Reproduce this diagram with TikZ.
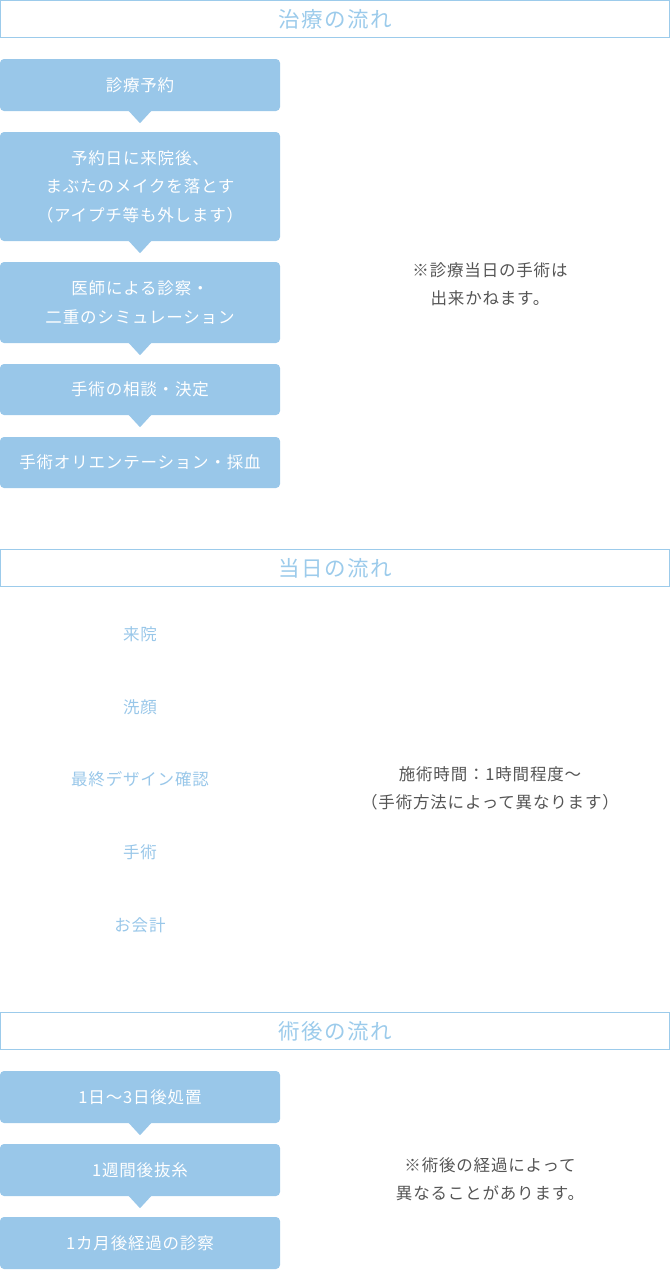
\documentclass[tikz,border=0pt]{standalone}
\usepackage{fontspec}
\newfontfamily\jpfont[LetterSpace=5]{Noto Sans CJK JP}
\newfontfamily\jpheadfont[LetterSpace=7]{Noto Sans CJK JP}
\definecolor{flowblue}{HTML}{99C7E9}
\definecolor{headblue}{HTML}{9CCBEB}
\definecolor{notegray}{HTML}{555555}
\tikzset{
    head/.style={draw=headblue, line width=1pt, minimum width=669pt, minimum height=37pt,
        inner sep=0pt, text=headblue, font=\jpheadfont\fontsize{21.5}{24}\selectfont},
    flowbox/.style={fill=flowblue, rounded corners=4pt, minimum width=280pt, inner sep=0pt,
        text=white, align=center, font=\jpfont\fontsize{16.5}{28.5}\selectfont},
    dayitem/.style={text=flowblue, font=\jpfont\fontsize{16.5}{18}\selectfont},
    note/.style={text=notegray, align=center, font=\jpfont\fontsize{16.5}{28}\selectfont},
}
\newcommand{\pointer}[1]{%
    \fill[flowblue] ([xshift=-12pt,yshift=1pt]#1.south) -- ([xshift=12pt,yshift=1pt]#1.south)
        -- ([yshift=-12pt]#1.south) -- cycle;}
\begin{document}
\begin{tikzpicture}[x=1pt,y=-1pt]
    \useasboundingbox (0,0) rectangle (670,1270);
    % treatment flow
    \node[head] (head1) at (335,19) {治療の流れ};
    \node[flowbox, minimum height=52pt] (reserve) at (140,85) {診療予約};
    \node[flowbox, minimum height=109pt] (visit) at (140,186.5) {予約日に来院後、\\まぶたのメイクを落とす\\（アイプチ等も外します）};
    \node[flowbox, minimum height=81pt] (exam) at (140,302.5) {医師による診察・\\二重のシミュレーション};
    \node[flowbox, minimum height=51pt] (consult) at (140,389.5) {手術の相談・決定};
    \node[flowbox, minimum height=51pt] (orient) at (140,462.5) {手術オリエンテーション・採血};
    \pointer{reserve}
    \pointer{visit}
    \pointer{exam}
    \pointer{consult}
    \node[note] (note1) at (490,284.5) {※診療当日の手術は\\出来かねます。};
    % day of surgery
    \node[head] (head2) at (335,568) {当日の流れ};
    \node[dayitem] (arrive) at (140,634) {来院};
    \node[dayitem] (wash) at (140,707) {洗顔};
    \node[dayitem] (design) at (140,779) {最終デザイン確認};
    \node[dayitem] (surgery) at (140,852) {手術};
    \node[dayitem] (pay) at (140,925) {お会計};
    \node[note] (note2) at (490,788.5) {施術時間：1時間程度〜\\（手術方法によって異なります）};
    % after surgery
    \node[head] (head3) at (335,1031) {術後の流れ};
    \node[flowbox, minimum height=52pt] (care) at (140,1097) {1日〜3日後処置};
    \node[flowbox, minimum height=52pt] (stitch) at (140,1170) {1週間後抜糸};
    \node[flowbox, minimum height=52pt] (check) at (140,1243) {1カ月後経過の診察};
    \pointer{care}
    \pointer{stitch}
    \node[note] (note3) at (490,1179) {※術後の経過によって\\異なることがあります。};
\end{tikzpicture}
\end{document}
